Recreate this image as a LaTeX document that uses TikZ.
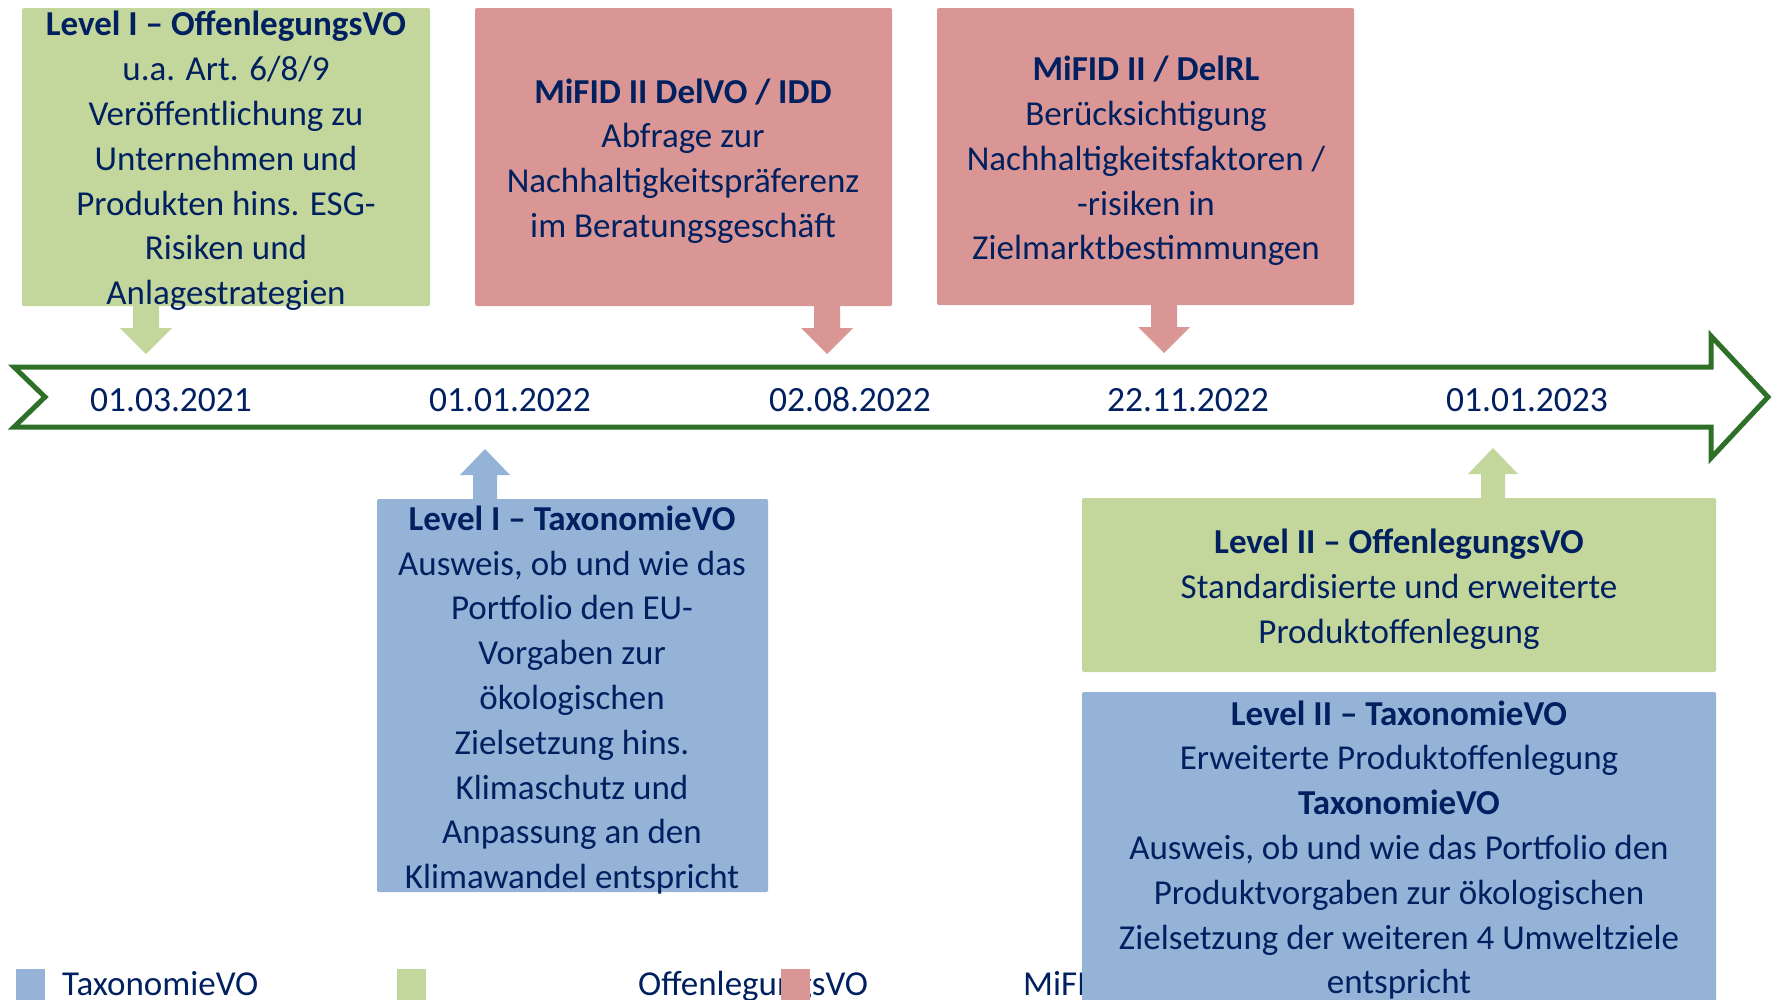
\documentclass[tikz,border=0pt]{standalone}
\usepackage{fontspec}
\setmainfont{Carlito}
\definecolor{navy}{HTML}{002060}
\definecolor{gfill}{HTML}{C3D69B}
\definecolor{rfill}{HTML}{DA9694}
\definecolor{bfill}{HTML}{95B3D7}
\definecolor{tline}{HTML}{2E7028}
\tikzset{
  box/.style={inner sep=0pt, outer sep=0pt, rounded corners=1.5pt, anchor=north west},
  txt/.style={align=center, text=navy, inner sep=0pt, font=\fontsize{35}{44.8}\selectfont},
  datelbl/.style={text=navy, inner sep=0pt, font=\fontsize{35.5}{44}\selectfont},
  legtxt/.style={text=navy, inner sep=0pt, anchor=base west, font=\fontsize{35}{44.8}\selectfont},
  legsq/.style={inner sep=0pt, minimum width=29pt, minimum height=31pt, anchor=north west},
  arrdown/.pic={\fill (-13,0) -- (13,0) -- (13,22) -- (26,22) -- (0,48) -- (-26,22) -- (-13,22) -- cycle;},
  arrup/.pic={\fill (-12,0) -- (12,0) -- (12,-24) -- (25,-24) -- (0,-50) -- (-25,-24) -- (-12,-24) -- cycle;}
}
\begin{document}
\begin{tikzpicture}[x=1pt,y=-1pt]
\useasboundingbox (0,0) rectangle (1777,999);
\clip (0,0) rectangle (1777,999);

% timeline arrow
\draw[tline, line width=5pt, fill=white]
  (14,367) -- (1711,367) -- (1711,336) -- (1768,397) -- (1711,458) -- (1711,427)
  -- (14,427) -- (45,397) -- cycle;
\node[datelbl] (d1) at (171,400) {01.03.2021};
\node[datelbl] (d2) at (510,400) {01.01.2022};
\node[datelbl] (d3) at (850,400) {02.08.2022};
\node[datelbl] (d4) at (1188,400) {22.11.2022};
\node[datelbl] (d5) at (1527,400) {01.01.2023};

% legend
\node[legsq, fill=bfill] (l1) at (16,969) {};
\node[legtxt] (lt1) at (62,995) {TaxonomieVO};
\node[legtxt] (lt2) at (638,995) {OffenlegungsVO};
\node[legtxt] (lt3) at (1023,995) {MiFID II};
\node[legsq, fill=gfill] (l2) at (397,969) {};
\node[legsq, fill=rfill] (l3) at (781,969) {};

% boxes above the timeline
\node[box, fill=gfill, minimum width=408pt, minimum height=298pt] (b1) at (22,8) {};
\node[box, fill=rfill, minimum width=417pt, minimum height=298pt] (b2) at (475,8) {};
\node[box, fill=rfill, minimum width=417pt, minimum height=297pt] (b3) at (937,8) {};
% boxes below the timeline
\node[box, fill=bfill, minimum width=391pt, minimum height=393pt] (b4) at (377,499) {};
\node[box, fill=gfill, minimum width=634pt, minimum height=174pt] (b5) at (1082,498) {};
\node[box, fill=bfill, minimum width=634pt, minimum height=310pt] (b6) at (1082,692) {};

% block arrows pointing at the dates
\pic[gfill] at (146,306) {arrdown};
\pic[rfill] at (827,306) {arrdown};
\pic[rfill] at (1164,305) {arrdown};
\pic[bfill] at (485,499) {arrup};
\pic[gfill] at (1493,498) {arrup};

% texts
\node[txt] (t1) at (226,161) {\textbf{Level I – OffenlegungsVO}\\u.a. Art. 6/8/9\\Veröffentlichung zu\\Unternehmen und\\Produkten hins. ESG-\\Risiken und\\Anlagestrategien};
\node[txt] (t2) at (683,161) {\textbf{MiFID II DelVO / IDD}\\Abfrage zur\\Nachhaltigkeitspräferenz\\im Beratungsgeschäft};
\node[txt] (t3) at (1146,161) {\textbf{MiFID II / DelRL}\\Berücksichtigung\\Nachhaltigkeitsfaktoren /\\-risiken in\\Zielmarktbestimmungen};
\node[txt] (t4) at (572,700) {\textbf{Level I – TaxonomieVO}\\Ausweis, ob und wie das\\Portfolio den EU-\\Vorgaben zur\\ökologischen\\Zielsetzung hins.\\Klimaschutz und\\Anpassung an den\\Klimawandel entspricht};
\node[txt] (t5) at (1399,589) {\textbf{Level II – OffenlegungsVO}\\Standardisierte und erweiterte\\Produktoffenlegung};
\node[txt] (t6) at (1399,850) {\textbf{Level II – TaxonomieVO}\\Erweiterte Produktoffenlegung\\\textbf{TaxonomieVO}\\Ausweis, ob und wie das Portfolio den\\Produktvorgaben zur ökologischen\\Zielsetzung der weiteren 4 Umweltziele\\entspricht};
\end{tikzpicture}
\end{document}
